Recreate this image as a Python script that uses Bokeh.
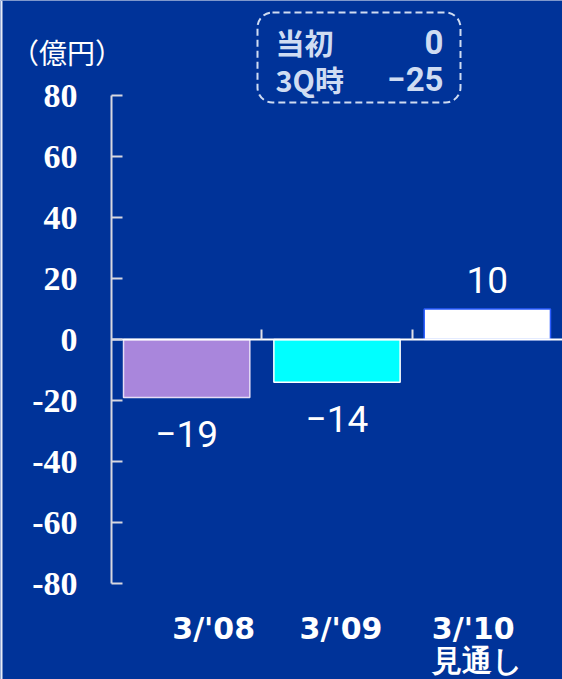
from bokeh.plotting import figure
from bokeh.models import (Range1d, LinearAxis, FixedTicker, ColumnDataSource, LabelSet,
                          BoxAnnotation, Span)
from bokeh.core.properties import value
from bokeh.embed import file_html
from bokeh.resources import INLINE

# ---- data ----
categories = ["3/'08", "3/'09", "3/'10\n見通し"]
values = [-19, -14, 10]
bar_colors = ["#a986dc", "#00ffff", "#ffffff"]
bar_line_colors = ["#e6ddf6", "#ffffff", "#2a5cff"]
y_ticks = [-80, -60, -40, -20, 0, 20, 40, 60, 80]
legend_names = ["当初", "3Q時"]
legend_values = [0, -25]
unit_label = "（億円）"

# ---- layout / style ----
BG = "#003399"
W, H = 562, 679
AX_X = 111          # pixel column of the value axis
PX_PER_CAT = 150.33
Y_TOP_PX, Y_BOT_PX = 95, 583   # pixel rows of +80 / -80
PX_PER_UNIT = (Y_BOT_PX - Y_TOP_PX) / 160.0


def dx(px):
    return 0.5 + (px - AX_X) / PX_PER_CAT


def dy(py):
    return 80 - (py - Y_TOP_PX) / PX_PER_UNIT


xs = [i + 1 for i in range(len(categories))]

p = figure(width=W, height=H, output_backend="svg", toolbar_location=None,
           x_range=Range1d(dx(0), dx(W)), y_range=Range1d(dy(H), dy(0)),
           min_border=0, x_axis_type=None, y_axis_type=None)
p.background_fill_color = BG
p.border_fill_color = BG
p.outline_line_color = None

# slide edge line on the left
p.add_layout(Span(location=dx(1), dimension="height", line_color="#e8ecf8", line_width=2))

# bars
src = ColumnDataSource(dict(x=xs, top=values, fill=bar_colors, line=bar_line_colors))
p.vbar(x="x", top="top", bottom=0, width=0.84, source=src,
       fill_color="fill", line_color="line", line_width=1.5)

# value axis
yaxis = LinearAxis(ticker=FixedTicker(ticks=y_ticks), fixed_location=0.5,
                   bounds=(y_ticks[0], y_ticks[-1]))
yaxis.major_label_overrides = {t: str(t) for t in y_ticks}
yaxis.axis_line_color = "#d8d8e0"
yaxis.axis_line_width = 2
yaxis.major_tick_line_color = "#d8d8e0"
yaxis.major_tick_line_width = 2
yaxis.major_tick_in = 11
yaxis.major_tick_out = 0
yaxis.minor_tick_line_color = None
yaxis.major_label_text_color = "white"
yaxis.major_label_text_font = "Liberation Serif"
yaxis.major_label_text_font_style = "bold"
yaxis.major_label_text_font_size = "34px"
yaxis.major_label_standoff = 34
p.add_layout(yaxis, "left")

# category axis along the zero line
xaxis = LinearAxis(ticker=FixedTicker(ticks=[1.5, 2.5]), fixed_location=0,
                   bounds=(0.5, 3.5))
xaxis.axis_line_color = "white"
xaxis.axis_line_width = 2
xaxis.major_tick_line_color = "#e0e0e8"
xaxis.major_tick_line_width = 2
xaxis.major_tick_in = 10
xaxis.major_tick_out = 0
xaxis.minor_tick_line_color = None
xaxis.major_label_text_font_size = "0px"
xaxis.major_label_text_alpha = 0
p.add_layout(xaxis, "below")

# value labels
val_text = [str(v).replace("-", "\u2212") for v in values]
val_src = ColumnDataSource(dict(
    x=xs, y=values, text=val_text,
    yoff=[-50 if v < 0 else 16 for v in values],
))
p.add_layout(LabelSet(x="x", y="y", text="text", source=val_src, y_offset="yoff",
                      text_baseline="alphabetic", text_align="center", text_color="white",
                      text_font=value("Roboto"), text_font_size="37px"))

# category labels
cat_src = ColumnDataSource(dict(x=xs, y=[y_ticks[0]] * len(xs), text=categories,
                                xoff=[27, 4, -10]))
p.add_layout(LabelSet(x="x", y="y", text="text", source=cat_src, x_offset="xoff",
                      y_offset=-27, text_baseline="top", text_align="center",
                      text_color="white", text_font=value("DejaVu Sans"),
                      text_font_style="bold", text_font_size="30px",
                      text_line_height=0.94))

# unit label
unit_src = ColumnDataSource(dict(x=[dx(66.5)], y=[dy(51.5)], text=[unit_label]))
p.add_layout(LabelSet(x="x", y="y", text="text", source=unit_src,
                      text_baseline="middle", text_align="center", text_color="white",
                      text_font=value("Noto Sans CJK JP"), text_font_size="28px"))

# note box
LEG_COLOR = "#cfdcf2"
p.add_layout(BoxAnnotation(left=dx(257), right=dx(460), top=dy(12), bottom=dy(102),
                           fill_color=None, fill_alpha=0, line_color=LEG_COLOR,
                           line_alpha=1, line_width=2, line_dash="7 4", border_radius=15))
row_y = [dy(41.5), dy(78.5)]
leg_src = ColumnDataSource(dict(
    xn=[dx(275)] * 2, xv=[dx(443)] * 2, y=row_y, name=legend_names,
    val=[str(v).replace("-", "\u2212") for v in legend_values]))
p.add_layout(LabelSet(x="xn", y="y", text="name", source=leg_src,
                      text_baseline="middle", text_align="left", text_color=LEG_COLOR,
                      text_font=value("Noto Sans CJK JP"), text_font_style="bold",
                      text_font_size="29px"))
p.add_layout(LabelSet(x="xv", y="y", text="val", source=leg_src,
                      text_baseline="middle", text_align="right", text_color=LEG_COLOR,
                      text_font=value("Roboto"), text_font_style="bold",
                      text_font_size="33px"))

open("out.html", "w").write(file_html(p, INLINE))
